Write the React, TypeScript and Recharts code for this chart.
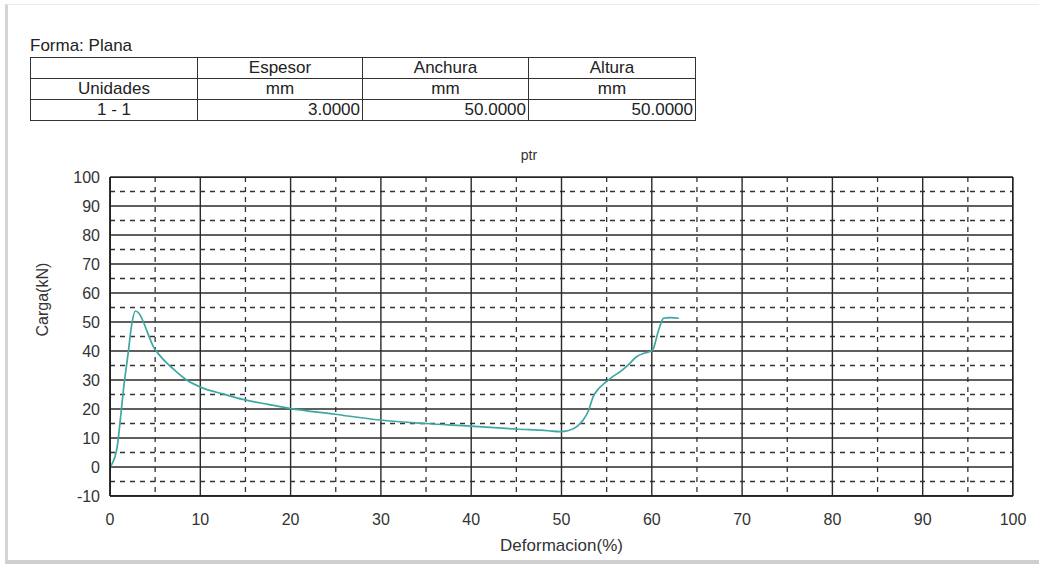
import React from 'react';
import { LineChart, Line, XAxis, YAxis, CartesianGrid } from 'recharts';

// curve (Deformacion %, Carga kN)
const deformacion = [0, 0.3, 0.55, 0.8, 1.1, 1.5, 2.0, 2.4, 2.8, 3.2, 3.7, 4.2, 4.8, 5.5, 6.3, 7.3, 8.5, 10.3, 12.5, 14.7, 17.5, 19.9, 24.9, 29.9, 34.9, 39.9, 44.9, 48.5, 49.8, 50.8, 51.8, 52.4, 53.0, 53.5, 54.1, 54.8, 55.6, 56.5, 57.4, 58.3, 59.1, 59.8, 60.1, 60.3, 60.6, 61.0, 61.3, 62.0, 63.0];
const carga = [0, 1.5, 3.5, 7, 15, 27, 39, 49, 53.8, 53, 50, 46, 41.5, 38.5, 35.8, 33, 30, 27.2, 25.2, 23.3, 21.6, 20.2, 18.2, 16.2, 15, 14.1, 13.1, 12.5, 12.2, 12.6, 14.2, 16.2, 19.5, 24.2, 27, 29, 31, 32.9, 35.2, 38, 39.2, 39.8, 40.3, 42, 45.5, 49.5, 51.3, 51.5, 51.3];

const xTicks = [0, 10, 20, 30, 40, 50, 60, 70, 80, 90, 100];
const yTicks = [-10, 0, 10, 20, 30, 40, 50, 60, 70, 80, 90, 100];
const xHalf = [5, 15, 25, 35, 45, 55, 65, 75, 85, 95];
const yHalf = [-5, 5, 15, 25, 35, 45, 55, 65, 75, 85, 95];

const headers = ['', 'Espesor', 'Anchura', 'Altura'];
const unidades = ['Unidades', 'mm', 'mm', 'mm'];
const valores = ['1 - 1', '3.0000', '50.0000', '50.0000'];

const data = deformacion.map((x, i) => ({ x, y: carga[i] }));

const W = 1039;
const H = 571;
const plotLeft = 110;
const plotRight = 1013;
const plotTop = 177;
const plotBottom = 496;

const font = '"Liberation Sans", Arial, sans-serif';

const cell = (align: 'center' | 'right'): React.CSSProperties => ({
  border: '1px solid #333',
  height: 20,
  padding: '0 2px',
  textAlign: align,
  lineHeight: '20px',
  overflow: 'hidden',
});

const App: React.FC = () => {
  return (
    <div style={{ position: 'fixed', left: 0, top: 0, width: W, height: H, background: '#fff', overflow: 'hidden', fontFamily: font }}>
      <div style={{ position: 'absolute', left: 5, top: 4, width: W, height: 560, borderLeft: '3px solid #d4d4d4', borderTop: '1px solid #ececec', borderBottom: '4px solid #cfcfcf', boxSizing: 'border-box' }} />

      <div style={{ position: 'absolute', left: 30, top: 36, fontSize: 17, color: '#222' }}>Forma: Plana</div>
      <table style={{ position: 'absolute', left: 30, top: 57, width: 666, borderCollapse: 'collapse', fontSize: 17, color: '#222', tableLayout: 'fixed' }}>
        <colgroup>
          <col style={{ width: 167 }} />
          <col style={{ width: 165 }} />
          <col style={{ width: 166 }} />
          <col style={{ width: 167 }} />
        </colgroup>
        <tbody>
          <tr>{headers.map((h, i) => <td key={i} style={cell('center')}>{h}</td>)}</tr>
          <tr>{unidades.map((h, i) => <td key={i} style={cell('center')}>{h}</td>)}</tr>
          <tr>{valores.map((h, i) => <td key={i} style={cell(i === 0 ? 'center' : 'right')}>{h}</td>)}</tr>
        </tbody>
      </table>

      <div style={{ position: 'absolute', left: 529, top: 147, transform: 'translateX(-50%)', fontSize: 14, color: '#333' }}>ptr</div>

      <div style={{ position: 'absolute', left: 0, top: 0 }}>
        <LineChart
          width={W}
          height={H}
          data={data}
          margin={{ top: plotTop, right: W - plotRight, bottom: 0, left: 0 }}
        >
          <CartesianGrid
            stroke="#333"
            strokeWidth={1.3}
            strokeDasharray="5 5"
            horizontalValues={yHalf}
            verticalValues={xHalf}
          />
          <CartesianGrid
            stroke="#2a2a2a"
            strokeWidth={1.4}
            horizontalValues={yTicks}
            verticalValues={xTicks}
          />
          <XAxis
            dataKey="x"
            type="number"
            domain={[0, 100]}
            ticks={xTicks}
            tickLine={false}
            axisLine={{ stroke: '#222', strokeWidth: 1.5 }}
            tickMargin={12}
            height={H - plotBottom}
            tick={{ fill: '#333', fontSize: 16, fontFamily: font }}
            label={{ value: 'Deformacion(%)', position: 'insideBottom', offset: 20, fill: '#333', fontSize: 17, fontFamily: font }}
          />
          <YAxis
            type="number"
            domain={[-10, 100]}
            ticks={yTicks}
            tickLine={false}
            axisLine={{ stroke: '#222', strokeWidth: 1.5 }}
            tickMargin={4}
            width={plotLeft}
            tick={{ fill: '#333', fontSize: 16, fontFamily: font }}
            label={{ value: 'Carga(kN)', angle: -90, position: 'insideLeft', offset: 42, fill: '#333', fontSize: 16, fontFamily: font }}
          />
          <Line
            type="monotone"
            dataKey="y"
            stroke="#3fa7a2"
            strokeWidth={1.7}
            dot={false}
            isAnimationActive={false}
          />
        </LineChart>
      </div>
      <div style={{ position: 'absolute', left: plotLeft, top: plotTop, width: plotRight - plotLeft, height: plotBottom - plotTop, border: '1.5px solid #222', boxSizing: 'border-box', pointerEvents: 'none' }} />
    </div>
  );
};

export default App;
